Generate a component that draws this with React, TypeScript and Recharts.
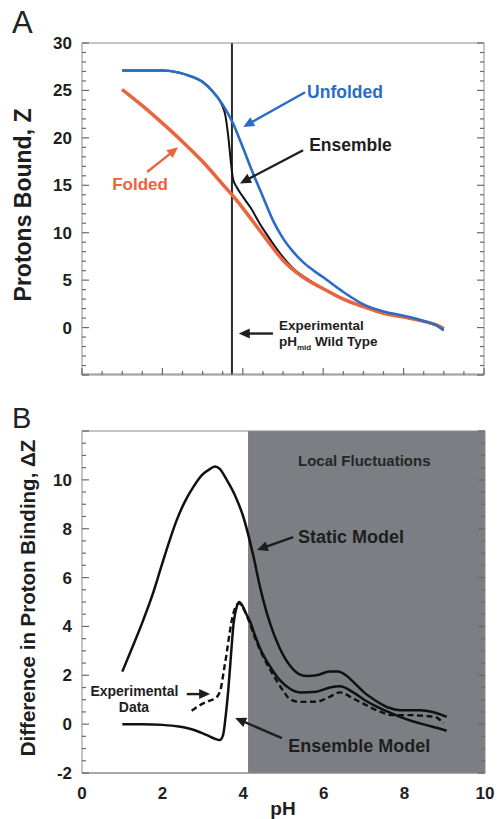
import React from 'react';
import { LineChart, Line, XAxis, YAxis, ReferenceLine, ReferenceArea, ReferenceDot } from 'recharts';

const FONT = '"Liberation Sans", Arial, Helvetica, sans-serif';
const FRAME = '#8a8a8a';
const TICK = '#6a6a6a';
const BLUE = '#2a6cc6';
const RED = '#eb6440';
const INK = '#1e1e1e';
const SHADE = '#7b7e83';

// ---------- Panel A: Protons bound, Z ----------
const unfoldedPH = [1.0, 1.5, 2.0, 2.4, 2.7, 3.0, 3.25, 3.5, 3.75, 4.0, 4.25, 4.5, 4.75, 5.0, 5.25, 5.5, 5.75, 6.0, 6.5, 7.0, 7.5, 8.0, 8.5, 8.8, 9.0];
const unfoldedZ = [27.1, 27.1, 27.1, 26.9, 26.5, 25.9, 24.9, 23.5, 21.6, 19.0, 16.3, 13.8, 11.3, 9.4, 8.0, 6.9, 6.05, 5.3, 3.75, 2.45, 1.7, 1.25, 0.7, 0.25, -0.3];

const foldedPH = [1.0, 1.5, 2.0, 2.5, 3.0, 3.5, 3.75, 4.0, 4.5, 5.0, 5.5, 6.0, 6.5, 7.0, 7.5, 8.0, 8.5, 8.8, 9.0];
const foldedZ = [25.1, 23.4, 21.55, 19.6, 17.5, 15.1, 13.9, 12.6, 9.8, 7.1, 5.3, 4.1, 3.0, 2.2, 1.5, 1.1, 0.65, 0.3, -0.1];

const ensemblePH = [1.0, 1.5, 2.0, 2.4, 2.7, 3.0, 3.25, 3.4, 3.5, 3.56, 3.64, 3.7, 3.76, 3.85, 4.0, 4.2, 4.43, 4.6, 4.93, 5.26, 5.67, 6.0, 6.5, 7.0, 7.5, 8.0, 8.5, 8.8, 9.0];
const ensembleZ = [27.1, 27.1, 27.1, 26.9, 26.5, 25.9, 24.9, 24.1, 23.3, 22.5, 20.1, 17.6, 15.6, 14.8, 13.8, 12.6, 10.9, 9.8, 7.8, 6.2, 4.95, 4.1, 3.0, 2.2, 1.5, 1.1, 0.65, 0.3, -0.1];

const pHmidWildType = 3.73;
const yTicksA = [0, 5, 10, 15, 20, 25, 30];
const yMajorA = [-5, 0, 5, 10, 15, 20, 25, 30];

// ---------- Panel B: Difference in proton binding, ΔZ ----------
const staticPH = [1.0, 1.25, 1.52, 1.75, 1.94, 2.15, 2.35, 2.55, 2.76, 2.98, 3.18, 3.3, 3.42, 3.59, 3.8, 4.0, 4.25, 4.42, 4.67, 4.91, 5.16, 5.41, 5.6, 5.82, 6.15, 6.35, 6.55, 6.75, 7.0, 7.3, 7.6, 7.9, 8.4, 8.7, 9.05];
const staticDZ = [2.15, 3.15, 4.26, 5.3, 6.3, 7.4, 8.35, 9.1, 9.7, 10.2, 10.45, 10.55, 10.45, 10.0, 9.35, 8.5, 6.9, 5.6, 4.1, 3.1, 2.4, 2.03, 1.97, 2.0, 2.15, 2.15, 2.0, 1.7, 1.3, 0.95, 0.68, 0.57, 0.57, 0.5, 0.3];

const ensModelPH = [1.0, 1.5, 2.0, 2.4, 2.8, 3.1, 3.3, 3.42, 3.5, 3.57, 3.63, 3.7, 3.76, 3.83, 3.9, 3.98, 4.08, 4.17, 4.3, 4.42, 4.67, 4.91, 5.16, 5.41, 5.82, 6.15, 6.4, 6.73, 7.0, 7.31, 7.6, 7.89, 8.2, 8.55, 8.8, 9.05];
const ensModelDZ = [0, 0, -0.03, -0.1, -0.25, -0.45, -0.6, -0.65, -0.45, 0.4, 1.4, 2.9, 4.1, 4.75, 5.0, 4.85, 4.5, 4.2, 3.6, 3.1, 2.35, 1.8, 1.45, 1.3, 1.33, 1.5, 1.55, 1.3, 1.0, 0.72, 0.5, 0.3, 0.12, -0.04, -0.15, -0.27];

const expPH = [2.72, 2.95, 3.15, 3.34, 3.45, 3.52, 3.59, 3.66, 3.75, 3.85, 3.9, 3.98, 4.1, 4.3, 4.5, 4.75, 5.0, 5.16, 5.41, 5.82, 6.15, 6.4, 6.73, 7.0, 7.31, 7.72, 8.14, 8.55, 8.75, 8.97];
const expDZ = [0.55, 0.8, 0.95, 1.1, 1.5, 2.2, 2.9, 3.7, 4.5, 4.9, 4.95, 4.8, 4.4, 3.5, 2.75, 2.0, 1.35, 1.02, 0.91, 0.92, 1.12, 1.3, 1.05, 0.82, 0.57, 0.37, 0.37, 0.33, 0.3, 0.03];

const localFluctStart = 4.12;
const xTicksB = [0, 2, 4, 6, 8, 10];
const yTicksB = [-2, 0, 2, 4, 6, 8, 10];
const xMajor = [0, 2, 4, 6, 8, 10];
const yMajorB = [-2, 0, 2, 4, 6, 8, 10, 12];

const range = (a: number, b: number, s: number) => {
  const out: number[] = [];
  for (let v = a; v <= b + 1e-9; v += s) out.push(Math.round(v * 1000) / 1000);
  return out;
};
const xMinor = range(0, 10, 0.5);
const yMinorA = range(-5, 30, 1);
const yMinorB = range(-2, 12, 0.5);

const pts = (xs: number[], ys: number[]) => xs.map((ph, i) => ({ ph, v: ys[i] }));

// ---------- helpers ----------
const isMajor = (v: number, majors: number[]) => majors.some((m) => Math.abs(m - v) < 1e-6);

const inwardTick = (dx: number, dy: number, majors: number[]) => (props: any) => {
  const x = Number(props.x);
  const y = Number(props.y);
  const value = props.payload ? props.payload.value : 0;
  const len = isMajor(value, majors) ? 7 : 4;
  return (
    <g>
      <line x1={x} y1={y} x2={x + dx * len} y2={y + dy * len} stroke={TICK} strokeWidth={1.2} />
    </g>
  );
};

const arrowShape = (color: string, w: number) => (props: any) => {
  const { x1, y1, x2, y2 } = props;
  const dx = x2 - x1;
  const dy = y2 - y1;
  const len = Math.hypot(dx, dy) || 1;
  const ux = dx / len;
  const uy = dy / len;
  const hl = 11;
  const hw = 5;
  const bx = x2 - ux * hl;
  const by = y2 - uy * hl;
  return (
    <g>
      <line x1={x1} y1={y1} x2={bx + ux * 1} y2={by + uy * 1} stroke={color} strokeWidth={w} />
      <polygon points={`${x2},${y2} ${bx - uy * hw},${by + ux * hw} ${bx + uy * hw},${by - ux * hw}`} fill={color} />
    </g>
  );
};

const textShape = (lines: React.ReactNode, color: string, size: number, anchor: string = 'start') => (props: any) => (
  <text
    x={props.cx}
    y={props.cy}
    dy="0.36em"
    textAnchor={anchor}
    fill={color}
    fontSize={size}
    fontWeight="bold"
    fontFamily={FONT}
  >
    {lines}
  </text>
);

type Note = { ph: number; v: number; text: React.ReactNode; color: string; size: number; anchor?: string };
type Arrow = { from: [number, number]; to: [number, number]; color: string };

const notesA: Note[] = [
  { ph: 5.6, v: 24.9, text: 'Unfolded', color: BLUE, size: 17.5 },
  { ph: 5.65, v: 19.3, text: 'Ensemble', color: INK, size: 17.5 },
  { ph: 0.75, v: 15.2, text: 'Folded', color: RED, size: 17 },
  { ph: 4.9, v: 0.25, text: 'Experimental', color: INK, size: 13.5 },
  {
    ph: 4.9,
    v: -1.45,
    text: [
      <tspan key="a">pH</tspan>,
      <tspan key="b" fontSize={8} dy={4}>mid</tspan>,
      <tspan key="c" dy={-4}> Wild Type</tspan>,
    ],
    color: INK,
    size: 13.5,
  },
];
const arrowsA: Arrow[] = [
  { from: [5.55, 24.8], to: [4.01, 21.15], color: BLUE },
  { from: [5.5, 18.7], to: [3.93, 15.2], color: INK },
  { from: [1.62, 16.4], to: [2.39, 19.0], color: RED },
  { from: [4.75, -0.63], to: [3.9, -0.63], color: INK },
];

const notesB: Note[] = [
  { ph: 5.36, v: 10.8, text: 'Local Fluctuations', color: '#262626', size: 15 },
  { ph: 5.36, v: 7.7, text: 'Static Model', color: INK, size: 18 },
  { ph: 5.12, v: -0.88, text: 'Ensemble Model', color: INK, size: 18 },
  { ph: 1.3, v: 1.35, text: 'Experimental', color: INK, size: 14, anchor: 'middle' },
  { ph: 1.29, v: 0.71, text: 'Data', color: INK, size: 14, anchor: 'middle' },
];
const arrowsB: Arrow[] = [
  { from: [5.24, 7.66], to: [4.34, 7.13], color: INK },
  { from: [4.96, -0.57], to: [3.8, 0.25], color: INK },
  { from: [2.6, 1.23], to: [3.18, 1.23], color: INK },
];

const frameAxes = (yDomain: [number, number], yMinor: number[], yMajor: number[]) => [
  <XAxis
    key="xt"
    xAxisId="xt"
    type="number"
    orientation="top"
    mirror
    height={1}
    domain={[0, 10]}
    allowDataOverflow
    ticks={xMinor}
    interval={0}
    tickSize={0}
    tickMargin={0}
    tickLine={false}
    tick={inwardTick(0, 1, xMajor)}
    axisLine={{ stroke: FRAME, strokeWidth: 1 }}
  />,
  <XAxis
    key="xb"
    xAxisId="xb"
    type="number"
    orientation="bottom"
    mirror
    height={1}
    domain={[0, 10]}
    allowDataOverflow
    ticks={xMinor}
    interval={0}
    tickSize={0}
    tickMargin={0}
    tickLine={false}
    tick={inwardTick(0, -1, xMajor)}
    axisLine={{ stroke: FRAME, strokeWidth: 1 }}
  />,
  <YAxis
    key="yl"
    yAxisId="yl"
    type="number"
    orientation="left"
    mirror
    width={1}
    domain={yDomain}
    allowDataOverflow
    ticks={yMinor}
    interval={0}
    tickSize={0}
    tickMargin={0}
    tickLine={false}
    tick={inwardTick(1, 0, yMajor)}
    axisLine={false}
  />,
  <YAxis
    key="yr"
    yAxisId="yr"
    type="number"
    orientation="right"
    mirror
    width={1}
    domain={yDomain}
    allowDataOverflow
    ticks={yMinor}
    interval={0}
    tickSize={0}
    tickMargin={0}
    tickLine={false}
    tick={inwardTick(-1, 0, yMajor)}
    axisLine={{ stroke: FRAME, strokeWidth: 1 }}
  />,
];

const renderNotes = (notes: Note[]) =>
  notes.map((n, i) => (
    <ReferenceDot
      key={`n${i}`}
      xAxisId="x"
      yAxisId="y"
      x={n.ph}
      y={n.v}
      r={0}
      ifOverflow="visible"
      shape={textShape(n.text, n.color, n.size, n.anchor)}
    />
  ));

const renderArrows = (arrows: Arrow[]) =>
  arrows.map((a, i) => (
    <ReferenceLine
      key={`a${i}`}
      xAxisId="x"
      yAxisId="y"
      segment={[
        { x: a.from[0], y: a.from[1] },
        { x: a.to[0], y: a.to[1] },
      ]}
      ifOverflow="visible"
      shape={arrowShape(a.color, 2.4)}
    />
  ));

const tickFont = { fontSize: 17, fontWeight: 'bold' as const, fill: INK, fontFamily: FONT };

function PanelA() {
  return (
    <LineChart width={497} height={400} margin={{ top: 43, right: 13, bottom: 25, left: 22 }}>
      <XAxis
        xAxisId="x"
        dataKey="ph"
        type="number"
        orientation="bottom"
        mirror
        height={1}
        domain={[0, 10]}
        allowDataOverflow
        ticks={xMinor}
        interval={0}
        tickSize={0}
        tickMargin={0}
        tickLine={false}
        tick={inwardTick(0, -1, xMajor)}
        axisLine={{ stroke: FRAME, strokeWidth: 1 }}
      />
      <YAxis
        yAxisId="y"
        type="number"
        width={60}
        domain={[-5, 30]}
        allowDataOverflow
        ticks={yTicksA}
        interval={0}
        tickLine={false}
        tickSize={0}
        tickMargin={10}
        tick={tickFont}
        axisLine={{ stroke: FRAME, strokeWidth: 1 }}
      />
      {frameAxes([-5, 30], yMinorA, yMajorA)}
      <ReferenceLine xAxisId="x" yAxisId="y" x={pHmidWildType} stroke="#2a2a2a" strokeWidth={2} />
      <Line
        xAxisId="x"
        yAxisId="y"
        data={pts(ensemblePH, ensembleZ)}
        dataKey="v"
        type="monotone"
        stroke="#111111"
        strokeWidth={2}
        dot={false}
        isAnimationActive={false}
      />
      <Line
        xAxisId="x"
        yAxisId="y"
        data={pts(foldedPH, foldedZ)}
        dataKey="v"
        type="monotone"
        stroke={RED}
        strokeWidth={3.5}
        dot={false}
        isAnimationActive={false}
      />
      <Line
        xAxisId="x"
        yAxisId="y"
        data={pts(unfoldedPH, unfoldedZ)}
        dataKey="v"
        type="monotone"
        stroke={BLUE}
        strokeWidth={2.6}
        dot={false}
        isAnimationActive={false}
      />
      {renderArrows(arrowsA)}
      {renderNotes(notesA)}
    </LineChart>
  );
}

function PanelB() {
  return (
    <LineChart width={497} height={419} margin={{ top: 31, right: 12, bottom: 16, left: 22 }}>
      <XAxis
        xAxisId="x"
        dataKey="ph"
        type="number"
        orientation="bottom"
        height={30}
        domain={[0, 10]}
        allowDataOverflow
        ticks={xTicksB}
        interval={0}
        tickLine={false}
        tickSize={0}
        tickMargin={14}
        tick={tickFont}
        axisLine={{ stroke: FRAME, strokeWidth: 1 }}
      />
      <YAxis
        yAxisId="y"
        type="number"
        width={60}
        domain={[-2, 12]}
        allowDataOverflow
        ticks={yTicksB}
        interval={0}
        tickLine={false}
        tickSize={0}
        tickMargin={10}
        tick={tickFont}
        axisLine={{ stroke: FRAME, strokeWidth: 1 }}
      />
      <ReferenceArea
        xAxisId="x"
        yAxisId="y"
        x1={localFluctStart}
        x2={10}
        y1={-2}
        y2={12}
        fill={SHADE}
        fillOpacity={1}
        stroke="none"
      />
      {frameAxes([-2, 12], yMinorB, yMajorB)}
      <Line
        xAxisId="x"
        yAxisId="y"
        data={pts(staticPH, staticDZ)}
        dataKey="v"
        type="monotone"
        stroke="#111111"
        strokeWidth={2.5}
        dot={false}
        isAnimationActive={false}
      />
      <Line
        xAxisId="x"
        yAxisId="y"
        data={pts(expPH, expDZ)}
        dataKey="v"
        type="monotone"
        stroke="#111111"
        strokeWidth={2.4}
        strokeDasharray="6 3.5"
        dot={false}
        isAnimationActive={false}
      />
      <Line
        xAxisId="x"
        yAxisId="y"
        data={pts(ensModelPH, ensModelDZ)}
        dataKey="v"
        type="monotone"
        stroke="#111111"
        strokeWidth={2.5}
        dot={false}
        isAnimationActive={false}
      />
      {renderArrows(arrowsB)}
      {renderNotes(notesB)}
    </LineChart>
  );
}

export default function App() {
  return (
    <div style={{ position: 'absolute', left: 0, top: 0, width: 497, height: 819, background: '#ffffff', fontFamily: FONT }}>
      <div style={{ position: 'absolute', left: 0, top: 0 }}>
        <PanelA />
      </div>
      <div style={{ position: 'absolute', left: 0, top: 400 }}>
        <PanelB />
      </div>
      <svg width={497} height={819} style={{ position: 'absolute', left: 0, top: 0, pointerEvents: 'none' }}>
        <text x={12} y={33} fontSize={31} fontFamily={FONT} fill="#222">A</text>
        <text x={12} y={428} fontSize={29} fontFamily={FONT} fill="#222">B</text>
        <text
          transform="translate(23,205) rotate(-90)"
          textAnchor="middle"
          dy="0.36em"
          fontSize={23}
          fontWeight="bold"
          fontFamily={FONT}
          fill={INK}
        >
          Protons Bound, Z
        </text>
        <text
          transform="translate(28,598) rotate(-90)"
          textAnchor="middle"
          dy="0.36em"
          fontSize={20.5}
          fontWeight="bold"
          fontFamily={FONT}
          fill={INK}
        >
          Difference in Proton Binding, ΔZ
        </text>
        <text x={283} y={815} textAnchor="middle" fontSize={19} fontWeight="bold" fontFamily={FONT} fill={INK}>
          pH
        </text>
      </svg>
    </div>
  );
}
